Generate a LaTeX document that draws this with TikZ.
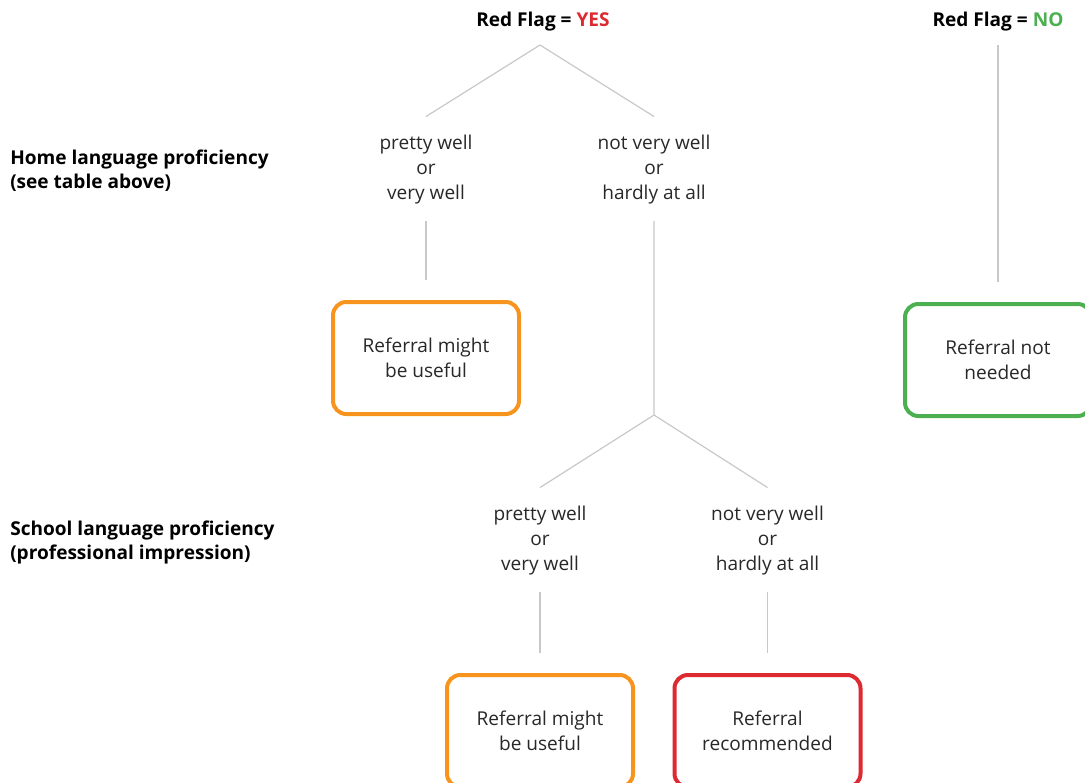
\documentclass[tikz,border=0pt]{standalone}
\usepackage{fontspec}
\setmainfont{Open Sans}
\usepackage{tikz}
\usepackage{xcolor}
\usetikzlibrary{positioning}
\definecolor{flagred}{RGB}{221, 41, 48}
\definecolor{flaggreen}{RGB}{76, 175, 80}
\definecolor{useful}{RGB}{247, 148, 29}
\definecolor{linegray}{RGB}{200, 200, 200}
\definecolor{textgray}{RGB}{40, 40, 40}
\tikzstyle{link} = [
    line width=0.9pt,
    draw=linegray
]
\tikzstyle{outcome} = [
    rectangle,
    rounded corners=10pt,
    line width=3pt,
    minimum width=139.5pt,
    minimum height=84pt,
    align=center,
    text=textgray,
    font=\fontsize{14.3}{18.5}\selectfont
]
\tikzstyle{answer} = [
    align=center,
    inner sep=0pt,
    text=textgray,
    font=\fontsize{14.3}{18.75}\selectfont
]
\tikzstyle{heading} = [
    inner sep=0pt,
    font=\bfseries\fontsize{14.3}{18}\selectfont
]
\tikzstyle{rowlabel} = [
    anchor=west,
    align=left,
    inner sep=0pt,
    font=\bfseries\fontsize{14.3}{18}\selectfont
]

\begin{document}
\begin{tikzpicture}[x=0.75pt, y=-0.75pt]
    \useasboundingbox (0,0) rectangle (1085,782);

    % Red flag headings
    \node[heading] (flagyes) at (543,22) {Red Flag = \textcolor{flagred}{YES}};
    \node[heading] (flagno) at (998,22) {Red Flag = \textcolor{flaggreen}{NO}};

    % Row labels
    \node[rowlabel] (homelang) at (10,171) {Home language proficiency\\(see table above)};
    \node[rowlabel] (schoollang) at (10,542) {School language proficiency\\(professional impression)};

    % Answers
    \node[answer] (homewell) at (426,170) {pretty well\\or\\very well};
    \node[answer] (homepoor) at (654,170) {not very well\\or\\hardly at all};
    \node[answer] (schoolwell) at (540,541) {pretty well\\or\\very well};
    \node[answer] (schoolpoor) at (767.5,541) {not very well\\or\\hardly at all};

    % Outcomes
    \node[outcome, draw=useful] (homeuseful) at (426,358) {Referral might\\be useful};
    \node[outcome, draw=flaggreen] (notneeded) at (998,360) {Referral not\\needed};
    \node[outcome, draw=useful] (schooluseful) at (540,731) {Referral might\\be useful};
    \node[outcome, draw=flagred] (recommended) at (767.5,731) {Referral\\recommended};

    % Forks
    \coordinate (yesfork) at (540,45);
    \coordinate (poorfork) at (654,415);

    % Connectors
    \draw[link] ([yshift=14pt]homewell.north) -- (yesfork) -- ([yshift=14pt]homepoor.north);
    \draw[link] ([yshift=-12pt]homewell.south) -- ([yshift=15pt]homeuseful.north);
    \draw[link] ([yshift=-10pt]flagno.south) -- ([yshift=15pt]notneeded.north);
    \draw[link] ([yshift=-12pt]homepoor.south) -- (poorfork) -- ([yshift=14pt]schoolwell.north);
    \draw[link] (poorfork) -- ([yshift=14pt]schoolpoor.north);
    \draw[link] ([yshift=-12pt]schoolwell.south) -- ([yshift=15pt]schooluseful.north);
    \draw[link] ([yshift=-12pt]schoolpoor.south) -- ([yshift=15pt]recommended.north);
\end{tikzpicture}
\end{document}
